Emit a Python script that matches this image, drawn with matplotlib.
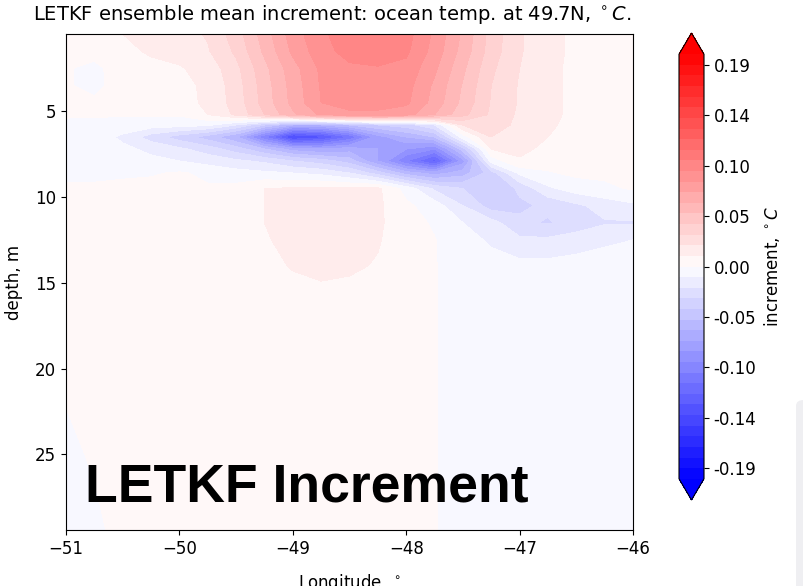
import numpy as np
import matplotlib
matplotlib.use('Agg')
import matplotlib.pyplot as plt
from matplotlib.patches import FancyBboxPatch

# ---- data ----
lons = [-51.0, -50.75, -50.5, -50.25, -50.0, -49.75, -49.5, -49.25, -49.0, -48.75, -48.5,
        -48.25, -48.0, -47.75, -47.5, -47.25, -47.0, -46.75, -46.5, -46.25, -46.0]
depths = [0.5, 1.5, 2.5, 3.5, 4.5, 5.2, 5.8, 6.5, 7.2, 7.9, 8.6, 9.5, 10.5, 11.5,
          12.5, 14.0, 15.5, 17.5, 20.0, 22.5, 25.0, 27.5, 29.4]

# increment (deg C), one row per depth level, one value per longitude
incr = [
    [0.004, 0.006, 0.010, 0.013, 0.016, 0.021, 0.035, 0.055, 0.075, 0.088, 0.096, 0.100, 0.094, 0.078, 0.058, 0.036, 0.021, 0.013, 0.008, 0.006, 0.005],
    [0.004, 0.004, 0.008, 0.011, 0.014, 0.019, 0.032, 0.052, 0.072, 0.086, 0.094, 0.097, 0.092, 0.076, 0.056, 0.035, 0.021, 0.013, 0.008, 0.006, 0.005],
    [0.001, -0.003, 0.006, 0.008, 0.009, 0.014, 0.027, 0.047, 0.066, 0.082, 0.088, 0.089, 0.087, 0.072, 0.052, 0.032, 0.020, 0.012, 0.008, 0.006, 0.005],
    [0.001, -0.003, 0.005, 0.006, 0.007, 0.012, 0.025, 0.045, 0.064, 0.081, 0.087, 0.087, 0.084, 0.068, 0.049, 0.030, 0.019, 0.012, 0.008, 0.006, 0.005],
    [0.003, 0.002, 0.004, 0.005, 0.006, 0.012, 0.024, 0.044, 0.063, 0.080, 0.085, 0.085, 0.082, 0.066, 0.047, 0.029, 0.019, 0.012, 0.008, 0.006, 0.005],
    [0.001, 0.001, 0.001, 0.001, 0.001, 0.010, 0.022, 0.040, 0.058, 0.072, 0.077, 0.077, 0.074, 0.060, 0.043, 0.028, 0.018, 0.012, 0.008, 0.006, 0.005],
    [-0.002, -0.003, -0.004, -0.005, -0.006, -0.008, -0.020, -0.040, -0.060, -0.060, -0.050, -0.040, -0.035, -0.020, 0.020, 0.026, 0.017, 0.011, 0.008, 0.006, 0.005],
    [-0.003, -0.005, -0.012, -0.025, -0.035, -0.045, -0.060, -0.100, -0.145, -0.135, -0.110, -0.075, -0.060, -0.050, -0.005, 0.020, 0.015, 0.010, 0.007, 0.005, 0.004],
    [-0.004, -0.005, -0.008, -0.012, -0.018, -0.025, -0.035, -0.050, -0.065, -0.070, -0.065, -0.070, -0.080, -0.090, -0.045, 0.010, 0.012, 0.008, 0.006, 0.004, 0.004],
    [-0.004, -0.005, -0.006, -0.008, -0.010, -0.014, -0.018, -0.022, -0.030, -0.035, -0.045, -0.070, -0.100, -0.125, -0.075, -0.006, 0.009, 0.004, 0.004, 0.003, 0.003],
    [-0.003, -0.003, -0.002, -0.001, 0.001, -0.002, -0.006, -0.008, -0.010, -0.013, -0.020, -0.035, -0.055, -0.065, -0.055, -0.035, -0.008, -0.001, 0.002, 0.002, 0.002],
    [0.002, 0.002, 0.003, 0.003, 0.003, 0.001, 0.003, 0.010, 0.011, 0.012, 0.011, 0.012, -0.004, -0.022, -0.030, -0.040, -0.028, -0.012, -0.005, -0.002, 0.001],
    [0.003, 0.003, 0.003, 0.003, 0.003, 0.003, 0.004, 0.010, 0.013, 0.014, 0.013, 0.012, 0.002, -0.005, -0.020, -0.035, -0.032, -0.028, -0.022, -0.016, -0.012],
    [0.003, 0.003, 0.003, 0.003, 0.003, 0.003, 0.004, 0.010, 0.014, 0.015, 0.014, 0.012, 0.003, -0.001, -0.010, -0.016, -0.028, -0.031, -0.026, -0.021, -0.021],
    [0.003, 0.003, 0.003, 0.003, 0.003, 0.003, 0.004, 0.009, 0.013, 0.014, 0.013, 0.011, 0.003, 0.0003, -0.005, -0.012, -0.018, -0.018, -0.015, -0.012, -0.010],
    [0.003, 0.003, 0.003, 0.003, 0.003, 0.003, 0.003, 0.006, 0.011, 0.013, 0.012, 0.009, 0.003, 0.0003, -0.003, -0.005, -0.007, -0.007, -0.006, -0.005, -0.004],
    [0.003, 0.003, 0.003, 0.003, 0.003, 0.003, 0.003, 0.004, 0.006, 0.008, 0.007, 0.005, 0.003, 0.0003, -0.003, -0.003, -0.004, -0.004, -0.004, -0.003, -0.003],
    [0.002, 0.003, 0.003, 0.003, 0.003, 0.003, 0.003, 0.003, 0.004, 0.004, 0.004, 0.003, 0.003, 0.0003, -0.003, -0.003, -0.003, -0.003, -0.003, -0.003, -0.003],
    [0.002, 0.003, 0.003, 0.003, 0.003, 0.003, 0.003, 0.003, 0.003, 0.003, 0.003, 0.003, 0.003, 0.0003, -0.003, -0.003, -0.003, -0.003, -0.003, -0.003, -0.003],
    [-0.0002, 0.003, 0.003, 0.003, 0.003, 0.003, 0.003, 0.003, 0.003, 0.003, 0.003, 0.003, 0.003, 0.0003, -0.003, -0.003, -0.003, -0.003, -0.003, -0.003, -0.003],
    [-0.002, 0.001, 0.003, 0.003, 0.003, 0.003, 0.003, 0.003, 0.003, 0.003, 0.003, 0.003, 0.003, 0.0003, -0.003, -0.003, -0.003, -0.003, -0.003, -0.003, -0.003],
    [-0.003, -0.0005, 0.003, 0.003, 0.003, 0.003, 0.003, 0.003, 0.003, 0.003, 0.003, 0.003, 0.003, 0.0003, -0.003, -0.003, -0.003, -0.003, -0.003, -0.003, -0.003],
    [-0.003, -0.002, 0.003, 0.003, 0.003, 0.003, 0.003, 0.003, 0.003, 0.003, 0.003, 0.003, 0.003, 0.0003, -0.003, -0.003, -0.003, -0.003, -0.003, -0.003, -0.003],
]

cbar_ticks = [-0.19, -0.1425, -0.095, -0.0475, 0.0, 0.0475, 0.095, 0.1425, 0.19]
cbar_labels = ['-0.19', '-0.14', '-0.10', '-0.05', '0.00', '0.05', '0.10', '0.14', '0.19']

title = 'LETKF ensemble mean increment: ocean temp. at 49.7N, $^\\circ C$.'

# ---- figure ----
plt.rcParams['font.size'] = 12
W, H = 804, 586
fig = plt.figure(figsize=(W / 100, H / 100), dpi=100)

# light grey slide element on the right edge
fig.patches.append(FancyBboxPatch((796 / W, -0.05), 0.05, (586 - 400) / H + 0.05,
                                  boxstyle='round,pad=0,rounding_size=0.01',
                                  transform=fig.transFigure, facecolor='#efeff2',
                                  edgecolor='none', zorder=0))

ax = fig.add_axes([66 / W, 56 / H, 567 / W, 496 / H])
# colorbar box includes the extension triangles
cax = fig.add_axes([679 / W, 86 / H, 25 / W, 467 / H])

levels = np.linspace(-0.2, 0.2, 41)
X, Y = np.meshgrid(lons, depths)
cs = ax.contourf(X, Y, np.array(incr), levels=levels, cmap='bwr', extend='both')
ax.set_ylim(max(depths), min(depths))
ax.set_xlim(min(lons), max(lons))
ax.set_xlabel('Longitude, $^\\circ$', labelpad=10)
ax.set_ylabel('depth, m', labelpad=9)

ax.text(0.033, 0.058, 'LETKF Increment', transform=ax.transAxes,
        fontsize=38.5, fontweight='bold', family='Liberation Sans', va='baseline')

cb = fig.colorbar(cs, cax=cax, ticks=cbar_ticks)
cb.ax.set_yticklabels(cbar_labels)
cb.set_label('increment, $^\\circ C$')

fig.text(33 / W, 1 - 20 / H, title, ha='left', va='baseline', fontsize=14)

fig.savefig('out.png', dpi=100)
